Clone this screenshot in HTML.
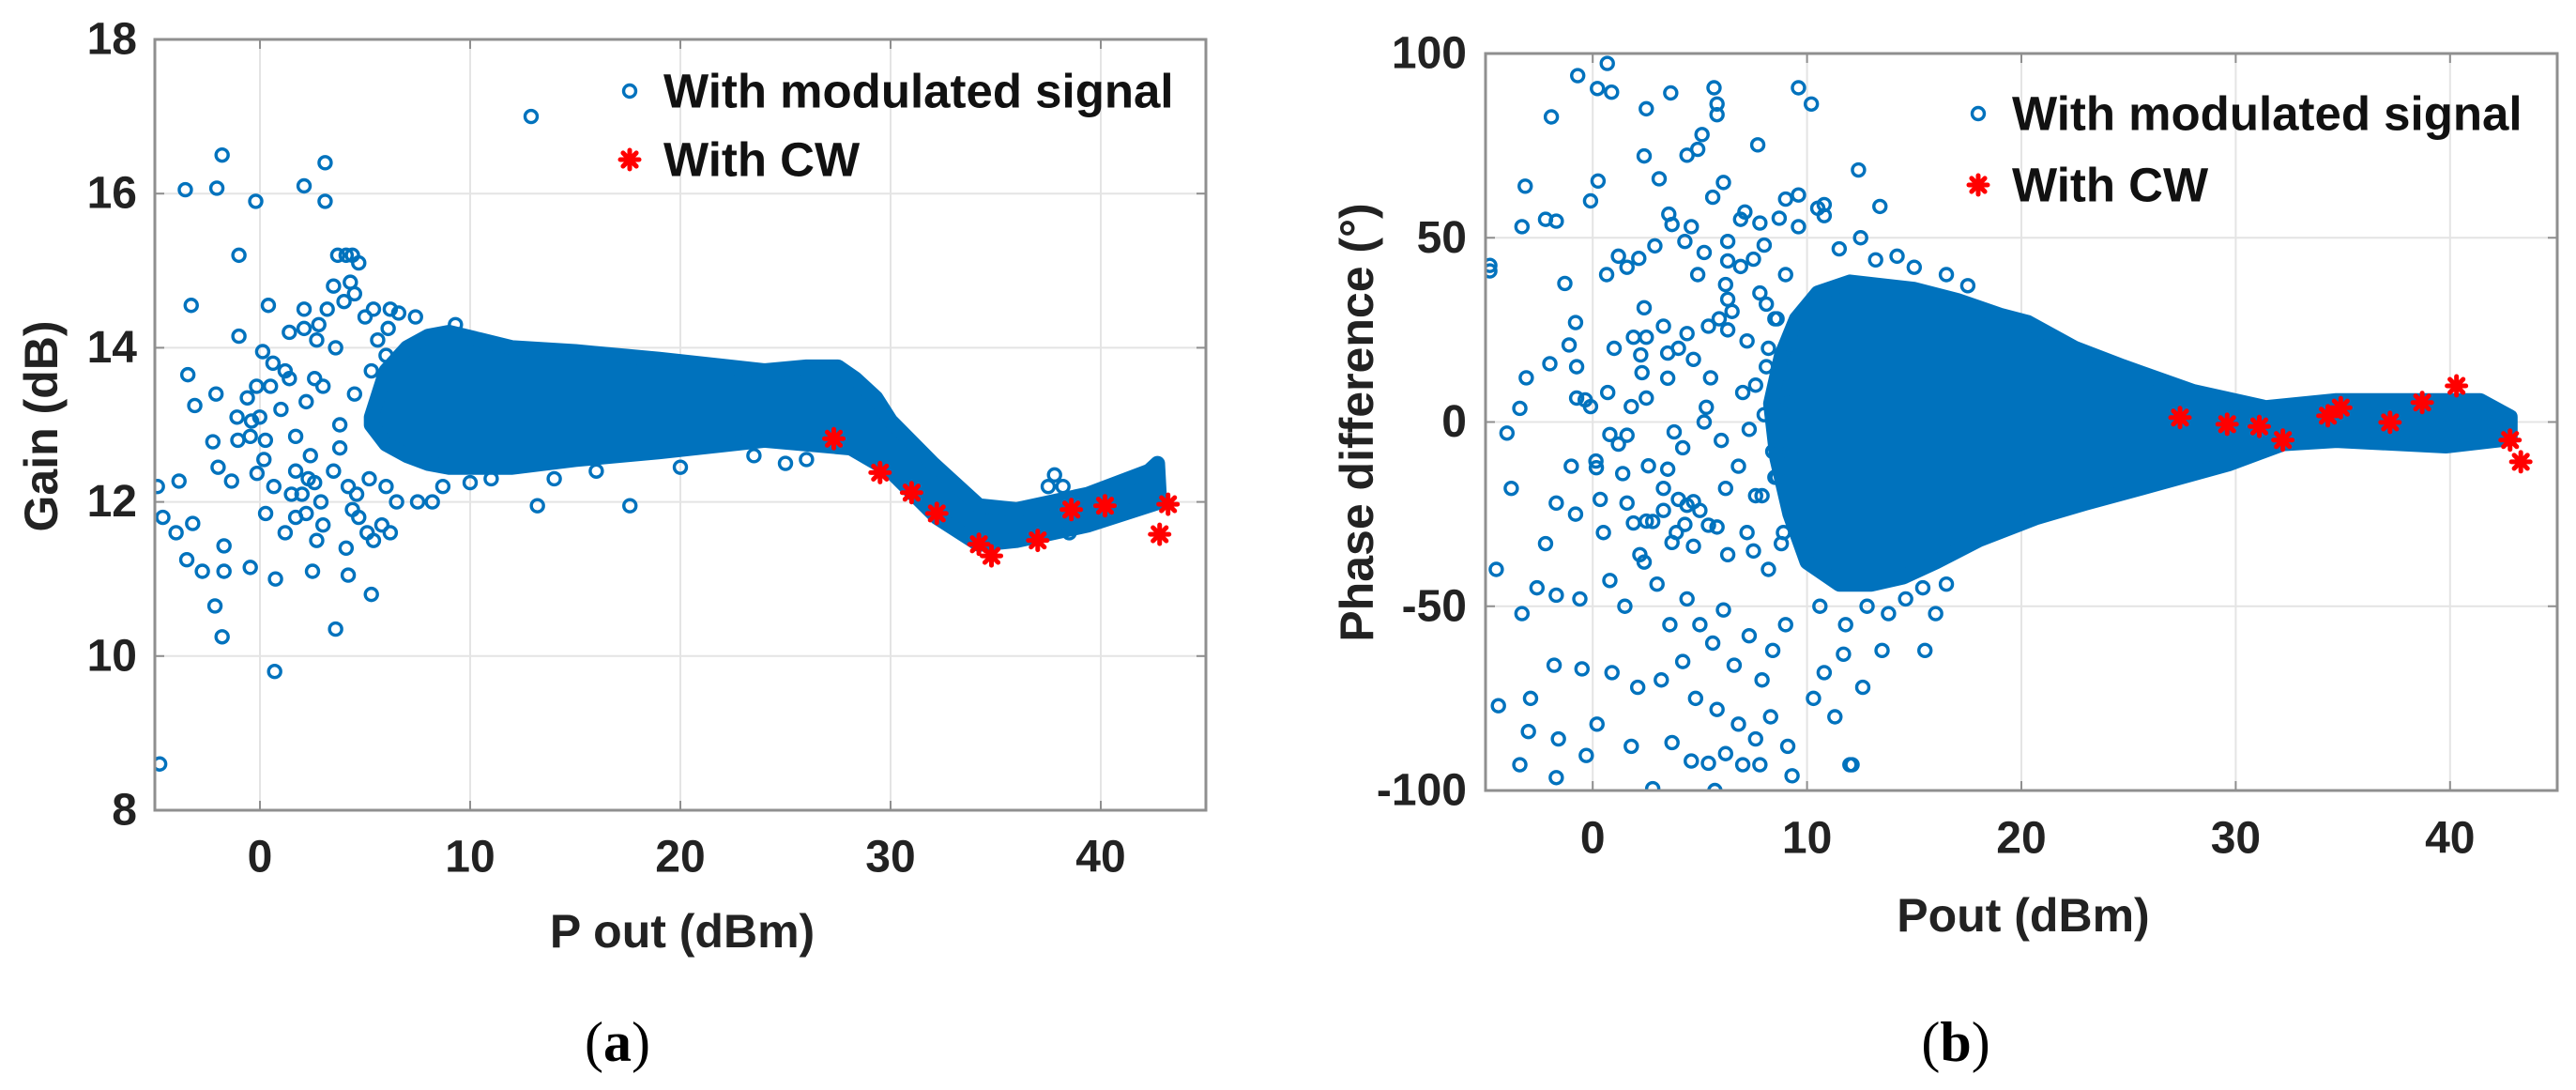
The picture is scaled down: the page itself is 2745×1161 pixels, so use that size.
<!DOCTYPE html>
<html><head><meta charset="utf-8"><style>
html,body{margin:0;padding:0;background:#fff;}
svg{display:block;font-family:"Liberation Sans",sans-serif;}
</style></head>
<body>
<svg id="fig" width="2745" height="1161" viewBox="0 0 2745 1161" xmlns="http://www.w3.org/2000/svg"></svg>
<script>
// ---------- Chart (a): Gain ----------
const aXTicks = [0, 10, 20, 30, 40];
const aYTicks = [8, 10, 12, 14, 16, 18];
const aBandX = [5.3,6,7,8,9,10.5,12,15,19,24,26,27.5,28.3,29.3,30,32,34.2,36,39.4,42.3,42.7, 42.8,39.4,36,34.2,32.2,30,28.1,24,19,15,12,9,8,7,6,5.3];
const aBandY = [13.1,13.7,14.0,14.15,14.2,14.1,14.0,13.95,13.85,13.7,13.75,13.75,13.6,13.35,13.05,12.5,11.95,11.9,12.1,12.4,12.5, 12.0,11.7,11.5,11.45,11.8,12.4,12.7,12.8,12.65,12.55,12.45,12.45,12.5,12.6,12.75,13.0];
const aModX = [-3.55,-1.8,-2.05,-0.2,-1.0,-3.27,0.4,-1.0,-3.43,-3.1,-2.09,-2.24,-1.99,-1.35,-3.85,-4.88,-4.62,-3.99,-3.2,-3.48,-2.74,-1.71,-1.71,-0.46,-2.14,-1.8,-4.77,0.7,0.74,0.27,0.66,-0.16,0.13,0.62,0.5,-0.01,0.26,0.19,-0.14,-1.09,-0.6,-0.4,-1.05,-0.46,
3.7,4.1,4.4,4.7,3.5,4.3,4.5,2.1,2.1,3.2,4.0,5.0,5.4,6.2,6.6,7.4,9.3,1.4,2.8,2.7,3.6,6.1,5.6,1.2,1.4,2.2,2.6,3.0,1.0,1.7,2.4,3.8,1.7,2.3,2.6,3.5,4.2,1.5,2.0,2.9,4.6,5.2,6.0,6.5,3.0,2.2,4.4,4.7,5.1,5.4,5.8,6.2,2.7,1.2,2.5,4.1,4.2,7.5,8.2,12.9,13.2,17.6,3.6,5.3,2.1,3.1,3.1,1.7,3.8,4.5,5.3,6,8.7,10,11,20,23.5,25,26,37.8,37.5,38.2,38.2,38.5,14,16];
const aModY = [16.05,16.5,16.07,15.9,15.2,14.55,14.55,14.15,13.65,13.25,13.4,12.78,12.45,12.27,12.27,12.2,11.8,11.6,11.72,11.25,11.1,11.43,11.1,11.15,10.65,10.25,8.6,9.8,11.0,11.85,12.2,13.5,13.95,13.8,13.5,13.1,12.8,12.55,12.37,13.1,13.35,13.05,12.8,12.85,
15.2,15.2,15.2,15.1,14.8,14.85,14.7,14.5,14.25,14.5,14.6,14.4,14.5,14.5,14.45,14.4,14.3,14.2,14.3,14.1,14.0,14.25,14.1,13.7,13.6,13.3,13.6,13.5,13.2,12.85,12.6,12.7,12.4,12.3,12.25,12.4,12.2,12.1,12.1,12.0,12.1,12.3,12.2,12.0,11.7,11.85,11.9,11.8,11.6,11.5,11.7,11.6,11.5,11.6,11.1,11.4,11.05,12.0,12.0,17.0,11.95,11.95,10.35,10.8,16.1,16.4,15.9,11.8,13.0,13.4,13.7,13.9,12.2,12.25,12.3,12.45,12.6,12.5,12.55,12.35,12.2,12.2,11.75,11.6,12.3,12.4];
const aCwX = [27.3,29.5,31.0,32.2,34.2,34.8,37.0,38.6,40.2,42.8,43.2];
const aCwY = [12.82,12.38,12.12,11.85,11.45,11.3,11.5,11.9,11.95,11.58,11.97];

// ---------- Chart (b): Phase ----------
const bXTicks = [0, 10, 20, 30, 40];
const bYTicks = [-100, -50, 0, 50, 100];
const bBandX = [8.3,8.8,9.5,10.5,12,13.5,15,17,19,20.3,22.5,24.7,28,31.4,34.7,41.4,42.8, 42.8,39.8,34.7,32.2,29.7,26.4,23,20.7,18,16,14.5,13,11.5,10,9.2,8.6];
const bBandY = [5,18,28,35,38,37,36,33,29,27,20,15.1,8.3,3.9,5.8,5.8,1.4, -4.5,-6.5,-5,-5.9,-11.3,-16.6,-22,-25.9,-32,-38,-42,-44,-44,-38,-25,-10];
const bModX = [0.68,-0.7,0.22,0.88,-1.93,2.5,3.64,5.66,5.8,5.8,9.6,10.2,7.7,5.1,4.9,4.4,2.4,12.4,-3.15,-3.3,-2.2,-1.7,0.25,-0.1,3.1,6.1,5.6,9,9.6,10.8,10.8,13.4,-4.8,-1.3,-0.8,-0.75,-1.1,-2,-3.4,-0.75,-0.1,0.65,1.6,1.8,0.8,-1.7,0.35,0.15,0.17,1.4,2.6,1.9,2.5,3.5,3.3,3.3,4,4.4,4.7,4.3,5.4,5.8,2.4,3.7,4.7,3.8,4.2,2.4,2.5,1.9,2.24,2.3,3.3,3.5,3.5,2.5,-0.35,1.2,1.6,2.15,2.9,3.55,3.7,4.6,4.3,5.2,4.9,6.3,6.9,7.1,7.8,8.7,9.6,6.3,6.9,7.5,6.2,6.3,4.0,4.4,4.7,5.4,5.9,6.3,5.3,5.2,
-3.4,-1.7,-0.3,2.8,5.4,5.7,7.0,7.8,9.3,12,
-4.5,-3.3,-2.6,-1.7,-0.6,0.8,1.5,2.2,3.0,3.6,4.4,5.0,5.6,6.1,6.6,7.3,7.9,8.4,9.0,-1.8,-0.5,0.9,2.1,3.2,4.2,4.8,5.8,6.8,7.6,8.3,9.1,10.3,11.3,-2.9,-1.6,0.2,1.8,3.7,4.6,6.2,-4.4,-3.0,10.8,11.7,12.6,-0.8,0.5,1.6,2.8,3.9,5.0,6.3,7.2,8.2,8.8,-2.2,-3.8,-1.0,1.2,0.7,1.0,-4.8,-3.1,-4.0,
6.5,7.2,7.8,8.5,9.0,8.1,7.0,6.0,6.8,7.6,8.6,9.2,9.3,5.5,6.2,8.0,10.5,11.5,12.5,13.2,14.2,15.0,16.5,17.5,11.8,12.8,13.8,14.6,15.4,16.5,10.6,13.5,12.1,16.0,15.5,
8.0,8.4,7.6,8.2,7.9,8.6,8.9,7.3,8.1,7.5,8.5,9.1];
const bModY = [97.3,94,90.5,89.5,82.8,85,89.3,90.7,86.3,83.4,90.7,86.3,75.2,78,74,72.4,72.2,68.4,64,53,55,54.5,65.4,60,66,65,61,60.5,61.6,59,56,58.5,42.5,37.6,27,15,20.9,15.8,3.7,6.5,4.2,40,-3.6,4.2,-3.4,-22,-21,-10.6,-12.4,-14,-11.9,-27.4,-26.9,-12.8,-18,-24,-21,-22.6,-21.6,-27.8,-28,-28.5,-38,-32.7,-33.7,-2.7,-7,31,23,23,18.2,13.4,26,18.7,11.9,6.5,6,45,42,44.4,47.8,56.4,53.6,53,49,46,40,49,55,57,54,55.3,53,43.7,42.2,44.2,37.3,33.3,20,24,17,26,28,25,4,0,
-93,-96.5,-90.5,-99.5,-92.6,-100,-93,-93,-96,-93,
-40,-52,-45,-47,-48,-43,-50,-36,-44,-55,-48,-55,-60,-51,-66,-58,-70,-62,-55,-66,-67,-68,-72,-70,-65,-75,-78,-82,-86,-80,-88,-75,-80,-75,-86,-82,-88,-87,-92,-90,-77,-84,-68,-63,-72,-25,-30,-22,-27,-30,-24,-36,-30,-40,-33,-33,-18,-12,-6,8,20,41,12,-3,
30,22,35,28,40,15,8,-5,-12,-20,-15,-8,18,12,-18,48,58,47,50,44,45,42,40,37,-55,-50,-52,-48,-45,-44,-50,-62,-93,-52,-62,
2,-8,10,20,-20,28,-30,-2,32,-35,-15,6];
const bCwX = [27.4,29.6,31.1,32.2,34.3,34.9,37.2,38.7,40.3,42.8,43.3];
const bCwY = [1.2,-0.6,-1.2,-4.9,1.7,3.9,-0.1,5.3,9.8,-4.9,-10.8];

const NS = "http://www.w3.org/2000/svg";
const svg = document.getElementById('fig');
const BLUE = "#0072BD";
function mk(tag, attrs, parent){ const e=document.createElementNS(NS,tag); for(const k in attrs) e.setAttribute(k,attrs[k]); (parent||svg).appendChild(e); return e; }

function drawChart(cfg){
  const g = mk('g',{});
  
  
  const sx = v => cfg.x0 + (v - cfg.xmin) / (cfg.xmax - cfg.xmin) * (cfg.x1 - cfg.x0);
  const sy = v => cfg.y1 - (v - cfg.ymin) / (cfg.ymax - cfg.ymin) * (cfg.y1 - cfg.y0);
  const clip = mk('clipPath',{id:cfg.name+'-clip'},g);
  mk('rect',{x:cfg.x0,y:cfg.y0,width:cfg.x1-cfg.x0,height:cfg.y1-cfg.y0},clip);
  mk('rect',{x:cfg.x0,y:cfg.y0,width:cfg.x1-cfg.x0,height:cfg.y1-cfg.y0,fill:'#fff'},g);
  cfg.xticks.forEach(t=>{
    const l = mk('line',{x1:sx(t),x2:sx(t),y1:cfg.y0,y2:cfg.y1,stroke:'#e4e4e4','stroke-width':2},g);
    
    
  });
  cfg.yticks.forEach(t=>{
    const l = mk('line',{x1:cfg.x0,x2:cfg.x1,y1:sy(t),y2:sy(t),stroke:'#e4e4e4','stroke-width':2},g);
    
    
  });
  const dg = mk('g',{'clip-path':'url(#'+cfg.name+'-clip)'},g);
  let pts = cfg.bandX.map((x,i)=>sx(x).toFixed(1)+','+sy(cfg.bandY[i]).toFixed(1)).join(' ');
  const band = mk('polygon',{points:pts,fill:BLUE,stroke:BLUE,'stroke-width':16,'stroke-linejoin':'round'},dg);
  
  
  cfg.modX.forEach((x,i)=>{
    const c = mk('circle',{cx:sx(x),cy:sy(cfg.modY[i]),r:6.5,fill:'none',stroke:BLUE,'stroke-width':3.4},dg);
    
    
  });
  cfg.cwX.forEach((x,i)=>{
    const cx=sx(x), cy=sy(cfg.cwY[i]);
    const s = mk('g',{},g);
    
    
    drawStar(s,cx,cy);
  });
  const box = mk('rect',{x:cfg.x0,y:cfg.y0,width:cfg.x1-cfg.x0,height:cfg.y1-cfg.y0,fill:'none',stroke:'#8f8f8f','stroke-width':3},g);
  
  
  cfg.xticks.forEach(t=>{
    mk('line',{x1:sx(t),x2:sx(t),y1:cfg.y1,y2:cfg.y1-10,stroke:'#8f8f8f','stroke-width':2},g);
    mk('line',{x1:sx(t),x2:sx(t),y1:cfg.y0,y2:cfg.y0+10,stroke:'#8f8f8f','stroke-width':2},g);
    const tx = mk('text',{x:sx(t),y:cfg.xTickY,'text-anchor':'middle','dominant-baseline':'central','font-size':cfg.tickFont,'font-weight':'bold',fill:'#222'},g);
    tx.textContent = t;
    
    
  });
  cfg.yticks.forEach(t=>{
    mk('line',{x1:cfg.x0,x2:cfg.x0+10,y1:sy(t),y2:sy(t),stroke:'#8f8f8f','stroke-width':2},g);
    mk('line',{x1:cfg.x1,x2:cfg.x1-10,y1:sy(t),y2:sy(t),stroke:'#8f8f8f','stroke-width':2},g);
    const tx = mk('text',{x:cfg.yTickX,y:sy(t),'text-anchor':'end','dominant-baseline':'central','font-size':cfg.tickFont,'font-weight':'bold',fill:'#222'},g);
    tx.textContent = t;
    
    
  });
  const xt = mk('text',{x:cfg.xTitleX,y:cfg.xTitleY,'text-anchor':'middle','dominant-baseline':'central','font-size':50,'font-weight':'bold',fill:'#222'},g);
  xt.textContent = cfg.xTitle;
  
  
  const yt = mk('text',{x:0,y:0,'text-anchor':'middle','dominant-baseline':'central','font-size':50,'font-weight':'bold',fill:'#222',transform:'translate('+cfg.yTitleX+','+cfg.yTitleY+') rotate(-90)'},g);
  yt.textContent = cfg.yTitle;
  
  
  const lg = mk('g',{},g);
  
  
  const e1 = mk('g',{},lg);
  
  
  mk('circle',{cx:cfg.legX-36,cy:cfg.legY1,r:6.5,fill:'none',stroke:BLUE,'stroke-width':3.4},e1);
  const t1 = mk('text',{x:cfg.legX,y:cfg.legY1,'dominant-baseline':'central','font-size':51,'font-weight':'bold',fill:'#111'},e1);
  t1.textContent = 'With modulated signal';
  const e2 = mk('g',{},lg);
  
  
  drawStar(e2,cfg.legX-36,cfg.legY2);
  const t2 = mk('text',{x:cfg.legX,y:cfg.legY2,'dominant-baseline':'central','font-size':51,'font-weight':'bold',fill:'#111'},e2);
  t2.textContent = 'With CW';
}
function drawStar(parent,cx,cy){
  const r=10;
  for(let k=0;k<4;k++){
    const a=k*Math.PI/4;
    mk('line',{x1:cx-r*Math.cos(a),y1:cy-r*Math.sin(a),x2:cx+r*Math.cos(a),y2:cy+r*Math.sin(a),stroke:'#ff0000','stroke-width':5,'stroke-linecap':'round'},parent);
  }
  mk('circle',{cx:cx,cy:cy,r:6,fill:'#ff0000'},parent);
}

drawChart({name:'gain-chart',x0:165,x1:1285,y0:42,y1:863,xmin:-5,xmax:45,ymin:8,ymax:18,
  xticks:aXTicks,yticks:aYTicks,bandX:aBandX,bandY:aBandY,modX:aModX,modY:aModY,cwX:aCwX,cwY:aCwY,
  tickFont:48,xTickY:913,yTickX:146,xTitle:'P out (dBm)',xTitleX:727,xTitleY:992,
  yTitle:'Gain (dB)',yTitleX:44,yTitleY:454,legX:707,legY1:97,legY2:170});
drawChart({name:'phase-chart',x0:1583,x1:2725,y0:57,y1:842,xmin:-5,xmax:45,ymin:-100,ymax:100,
  xticks:bXTicks,yticks:bYTicks,bandX:bBandX,bandY:bBandY,modX:bModX,modY:bModY,cwX:bCwX,cwY:bCwY,
  tickFont:48,xTickY:893,yTickX:1563,xTitle:'Pout  (dBm)',xTitleX:2156,xTitleY:975,
  yTitle:'Phase difference  (°)',yTitleX:1446,yTitleY:450,legX:2144,legY1:121,legY2:197});

const ca = mk('text',{x:658,y:1110,'text-anchor':'middle','dominant-baseline':'central','font-size':60,'font-family':'Liberation Serif, serif',fill:'#000'});
ca.innerHTML = '(<tspan font-weight="bold">a</tspan>)';


const cb = mk('text',{x:2084,y:1110,'text-anchor':'middle','dominant-baseline':'central','font-size':60,'font-family':'Liberation Serif, serif',fill:'#000'});
cb.innerHTML = '(<tspan font-weight="bold">b</tspan>)';


</script>
</body></html>
